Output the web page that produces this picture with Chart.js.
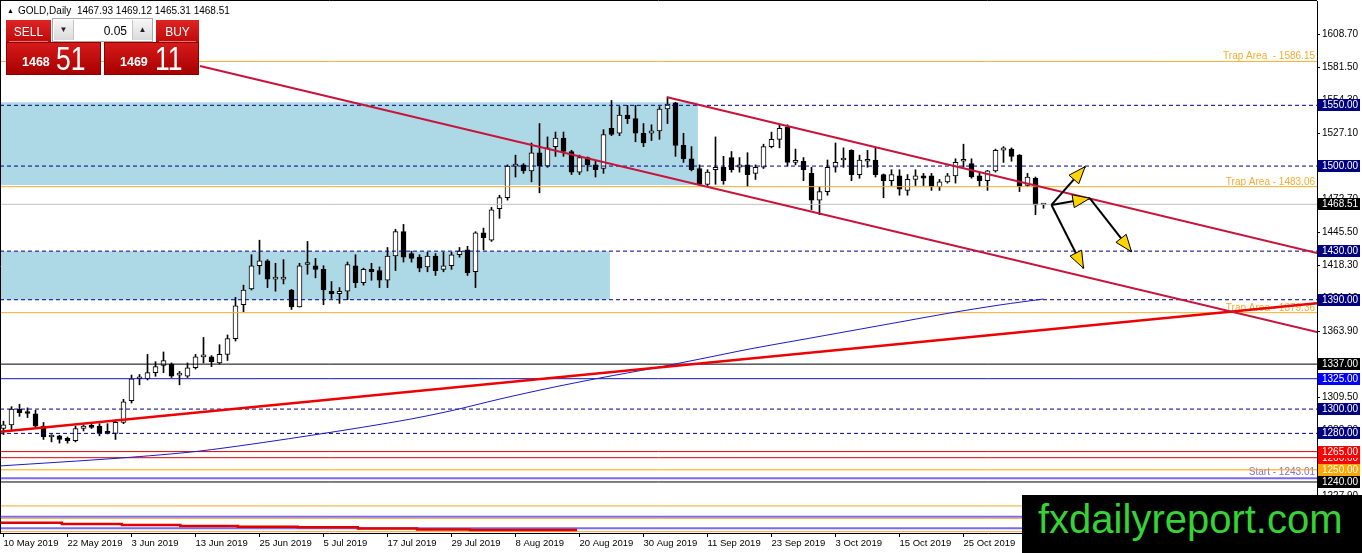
<!DOCTYPE html>
<html>
<head>
<meta charset="utf-8">
<title>GOLD Daily</title>
<script src="https://cdn.jsdelivr.net/npm/chart.js@4.4.1/dist/chart.umd.min.js"></script>
<style>
  html, body { margin: 0; padding: 0; background: #fff; }
  #wrap { position: relative; width: 1362px; height: 553px; overflow: hidden; font-family: "Liberation Sans", Arial, sans-serif; }
  #chart { position: absolute; left: 0; top: 0; }
  .abs { position: absolute; white-space: pre; }
  .red { background: linear-gradient(#de2424, #bf0a0a); }
  .redBig { background: linear-gradient(#d61a1a, #a80000); border: 1px solid #8c0000; box-sizing: border-box; }
  .wt { color: #fff; }
  .btn { position: absolute; top: 1px; width: 19px; height: 20px; background: linear-gradient(#f6f6f6, #dadada); font-size: 8px; line-height: 20px; text-align: center; color: #222; }
</style>
</head>
<body>
<div id="wrap">
  <canvas id="chart" width="1362" height="553"></canvas>

  <!-- header -->
  <div class="abs" style="left:7px;top:7px;font-size:7px;line-height:7px;">▲</div>
  <div class="abs" style="left:18px;top:6px;font-size:10px;line-height:10px;">GOLD,Daily  1467.93 1469.12 1465.31 1468.51</div>

  <!-- one click trading panel -->
  <div class="abs red" style="left:6px;top:20px;width:45px;height:22px;"></div>
  <div class="abs red" style="left:156px;top:20px;width:43px;height:22px;"></div>
  <div class="abs" style="left:9px;top:41px;width:39px;height:1px;background:rgba(255,255,255,0.45);"></div>
  <div class="abs" style="left:159px;top:41px;width:37px;height:1px;background:rgba(255,255,255,0.45);"></div>
  <div class="abs wt" style="left:6px;top:26px;width:45px;text-align:center;font-size:12px;line-height:12px;">SELL</div>
  <div class="abs wt" style="left:156px;top:26px;width:43px;text-align:center;font-size:12px;line-height:12px;">BUY</div>
  <div class="abs" style="left:52px;top:18px;width:101px;height:24px;background:#fff;border:1px solid #a8a8a8;box-sizing:border-box;">
    <div class="btn" style="left:1px;border-right:1px solid #c4c4c4;">▼</div>
    <div class="btn" style="left:79px;border-left:1px solid #c4c4c4;">▲</div>
  </div>
  <div class="abs" style="left:73px;top:25px;width:54px;text-align:right;font-size:12px;line-height:12px;">0.05</div>
  <div class="abs redBig" style="left:6px;top:42px;width:95px;height:33px;"></div>
  <div class="abs redBig" style="left:104px;top:42px;width:95px;height:33px;"></div>
  <div class="abs wt" style="left:22px;top:56px;font-size:12.5px;line-height:12.5px;font-weight:bold;">1468</div>
  <div class="abs wt" style="left:56px;top:41px;font-size:34px;line-height:34px;transform:scaleX(0.78);transform-origin:left top;">51</div>
  <div class="abs wt" style="left:120px;top:56px;font-size:12.5px;line-height:12.5px;font-weight:bold;">1469</div>
  <div class="abs wt" style="left:155px;top:41px;font-size:34px;line-height:34px;transform:scaleX(0.78);transform-origin:left top;">11</div>

  <!-- watermark -->
  <div class="abs" style="left:1022px;top:495px;width:340px;height:58px;background:#000;"></div>
  <div class="abs" style="left:1038px;top:499px;font-size:40px;line-height:40px;color:#35d335;">fxdailyreport.com</div>
</div>

<script>
// --- data ------------------------------------------------------------------

// date labels on the bottom axis, one every 8 bars
const tickDates = ['10 May 2019', '22 May 2019', '3 Jun 2019', '13 Jun 2019', '25 Jun 2019', '5 Jul 2019',
  '17 Jul 2019', '29 Jul 2019', '8 Aug 2019', '20 Aug 2019', '30 Aug 2019', '11 Sep 2019',
  '23 Sep 2019', '3 Oct 2019', '15 Oct 2019', '25 Oct 2019'];
const dateTickIndex = [0, 8, 16, 24, 32, 40, 48, 56, 64, 72, 80, 88, 96, 104, 112, 120];

// price labels on the right axis
const priceTicks = [1608.70, 1581.50, 1554.30, 1527.10, 1499.90, 1472.70, 1445.50, 1418.30, 1391.10,
  1363.90, 1336.70, 1309.50, 1282.30, 1255.10, 1227.90];

// daily candles, 10 May 2019 .. 8 Nov 2019
const opens = [1284,1287,1300,1297,1296,1286,1277,1278,1276,1274, 1284,1285.6,1286,1281,1280,1289,1307,1325,1325,1330,
  1336,1337,1328,1327,1334,1343,1343,1338,1345,1358, 1386,1399,1418,1422,1407,1407,1398,1384,1419,1418,
  1415,1397,1395,1397,1418,1404,1415,1414,1406,1426, 1446,1428,1425,1417,1426,1415,1418,1427,1431,1413,
  1445,1439,1465,1474,1500,1501,1496,1511,1500,1516, 1523,1512,1495,1507,1501,1498,1531,1527,1542,1539,
  1527,1527,1529,1547,1552,1517,1506,1498,1485,1497, 1499,1507,1499,1501,1494,1499,1516,1522,1532,1503,
  1504,1494,1472,1479,1499,1505,1513,1493,1504,1505, 1493,1488,1492,1480,1489,1492,1492,1483,1487,1492,
  1504,1502,1492,1488,1496,1513,1514,1509,1484,1490, 1467.93];
const highs = [1290,1302,1304,1301,1299,1289,1279,1278.5,1277,1286, 1287,1288,1288,1288,1291,1308,1328,1328.5,1345,1339,
  1347,1338,1331,1338,1345,1359,1344,1353,1361,1392, 1402,1427,1439,1423,1420,1423,1398.5,1420,1438,1424,
  1418,1405,1400,1421,1427,1416,1420,1417,1433,1448, 1452,1430,1427,1429,1428,1429,1429,1433,1434,1446,
  1449,1466,1476,1501,1509,1502,1519,1535,1524,1528, 1528,1513,1509,1507.5,1504,1530,1554,1549,1550,1550,
  1535,1534,1549,1557,1552.5,1527,1516,1501,1497,1524, 1508,1512,1507,1511,1501,1518,1528,1534,1534,1514,
  1507,1499,1483,1505,1519,1515,1513.5,1509,1513,1515, 1493.5,1497,1497,1493,1497,1494,1494,1489,1494,1506,
  1518,1506,1495,1496.5,1514,1516,1515,1509.5,1494,1491, 1469.12];
const lows = [1279,1282,1294,1293,1285,1275,1273,1272,1272,1273, 1282,1284,1278,1279.5,1275,1288,1305,1320,1324,1327,
  1330,1326,1320,1326,1333,1338,1335,1337,1340,1356, 1380,1398,1411,1400,1397,1403,1382,1384,1411,1408,
  1386,1391,1387,1390,1400,1402,1406,1400,1400,1414, 1421,1421,1413,1413,1410,1413,1415,1425,1410,1400,
  1431,1438,1457,1472,1491,1494,1487,1478,1499,1508, 1508,1493,1493,1496,1491,1494,1525,1525,1535,1520,
  1516,1521,1522,1535,1508,1503,1496,1484,1484,1485, 1485,1495,1495,1483,1489,1498,1515,1515,1500,1501,
  1488,1464,1460,1476,1495,1499,1488,1490,1499,1491, 1474,1484,1476,1476,1484,1484,1480,1480,1486,1486,
  1499,1490,1483,1480,1495,1503,1504,1479,1483,1460, 1465.31];
const closes = [1287,1300,1297,1296.4,1286,1277,1277.6,1275,1274,1284, 1286,1285,1280,1280,1289,1306,1325,1325.6,1330,1335,
  1340,1327,1328.6,1334,1343,1343.6,1339,1345,1358,1385, 1398,1418,1422,1407,1407.6,1407.6,1384,1418,1419.6,1415,
  1398,1395,1397,1419,1404,1415,1413,1406,1426,1446, 1425,1424,1416,1426,1414,1418,1427,1430,1412,1445,
  1441,1464,1474,1500,1500.6,1496,1511,1500,1515,1523, 1512,1495,1507,1501,1497,1526,1526,1542,1539,1527,
  1519,1529,1547,1551,1517,1506,1497,1485,1495,1499, 1488,1497,1501,1493,1499,1516,1522,1531,1503,1503.6,
  1497,1472,1479,1499,1503,1505.6,1493,1505,1504.6,1493, 1488,1493,1481,1489,1492,1490,1483,1487,1492,1503,
  1504.6,1491,1488,1496,1513,1515,1508,1483,1491,1468, 1468.51];

// moving average (blue), sampled along the curve: bar index / price
const maIndex = [-0.44, 14.56, 24.56, 37.06, 49.56, 55.81, 62.06, 68.31, 74.56, 81.44, 87.06, 93.31,
  99.56, 105.81, 112.06, 118.31, 124.56, 130];
const maValue = [1253.2, 1259.7, 1265.5, 1277.0, 1290.2, 1298.4, 1308.3, 1317.4, 1325.6, 1333.9, 1341.2, 1349.5,
  1356.9, 1364.3, 1371.7, 1379.1, 1385.7, 1390.6];

// trend lines: [start index, end index] / [start price, end price]
const redTrendIndex = [-0.44, 164.19];
const redTrendValue = [1281.4, 1387.1];
const channelLowIndex = [24.56, 164.19];
const channelLowValue = [1582.4, 1363.4];
const channelHighIndex = [82.97, 164.19];
const channelHighValue = [1556.6, 1428.5];

// stepped red line along the bottom
const stepIndex = [-0.44, 7.3, 14.8, 22.1, 29.3, 36.8, 44.3, 51.7, 58.3, 71.7];
const stepValue = [1206.5, 1205.4, 1204.6, 1203.8, 1203.2, 1202.7, 1201.7, 1200.9, 1200.5, 1200.5];

// shaded zones
const zoneEndIndex = [86.8, 75.8];
const zoneTop = [1552.5, 1430];
const zoneBottom = [1484.5, 1390];

// arrows
const arrowStartIndex = [131.0, 131.0, 135.8, 131.0];
const arrowStartValue = [1468.0, 1468.0, 1473.5, 1468.0];
const arrowEndIndex = [135.2, 135.8, 141.0, 135.0];
const arrowEndValue = [1499.5, 1473.5, 1429.5, 1415.9];

// horizontal levels
const dashedLevels = [1550, 1500, 1430, 1390, 1300, 1280];
const trapLevels = [1586.15, 1483.06, 1379.36];
const trapTexts = ['Trap Area  - 1586.15', 'Trap Area - 1483.06', 'Trap Area - 1379.36'];
const bidLevel = [1468.51];
const blackLevels = [1337, 1240];
const blueLevels = [1325];
const redLevels = [1260, 1265];
const orangeLevels = [1250];
const startLevel = [1243.01];
const startTexts = ['Start - 1243.01'];
const lowOrangeLevels = [1220.3, 1210.1, 1199.1];
const lowPurpleLevels = [1211.4, 1201.9];

// --- scale geometry -----------------------------------------------------------
const PX_PER_BAR = 8;
const PLOT_W = 1317;
const xMin = -0.4375;
const xMax = xMin + PLOT_W / PX_PER_BAR;
const yMax = 1635.86;
const yMin = 1198.02;

const FONT = '"Liberation Sans", Arial, sans-serif';
const NAVY = '#000080';
const TRAP = '#f3ad30';
const PURPLE = '#7b68ee';

function pts(xs, ys) { return xs.map((x, k) => ({ x: x, y: ys[k] })); }

function hline(v, color, width, dash, order) {
  return {
    type: 'line', data: [{ x: xMin, y: v }, { x: xMax, y: v }],
    borderColor: color, borderWidth: width, borderDash: dash || [],
    pointRadius: 0, tension: 0, fill: false, order: order || 40
  };
}

const datasets = [];

// shaded zones (under everything)
zoneTop.forEach((t, k) => {
  datasets.push({
    type: 'line', data: [{ x: xMin, y: t }, { x: zoneEndIndex[k], y: t }],
    fill: { value: zoneBottom[k] }, backgroundColor: '#add8e6',
    borderColor: 'rgba(0,0,0,0)', borderWidth: 0, pointRadius: 0, order: 100
  });
});

// candles: wicks + bodies as floating bars
const idx = opens.map((o, i) => i);
datasets.push({
  type: 'bar', data: idx.map(i => ({ x: i, y: [lows[i], highs[i]] })),
  backgroundColor: '#000', borderWidth: 0, barThickness: 1, grouped: false, order: 60
});
datasets.push({
  type: 'bar',
  data: idx.map(i => ({ x: i, y: [Math.min(opens[i], closes[i]), Math.max(opens[i], closes[i])] })),
  backgroundColor: idx.map(i => closes[i] >= opens[i] ? '#fff' : '#000'),
  borderColor: '#000', borderWidth: 1, borderSkipped: false, minBarLength: 2,
  barThickness: 5, grouped: false, order: 55
});

// horizontal levels
dashedLevels.forEach(v => datasets.push(hline(v, NAVY, 1, [4, 3])));
trapLevels.forEach(v => datasets.push(hline(v, TRAP, 1)));
bidLevel.forEach(v => datasets.push(hline(v, '#c0c0c0', 1, null, 45)));
blackLevels.forEach(v => datasets.push(hline(v, '#000', 1)));
blueLevels.forEach(v => datasets.push(hline(v, '#1414b4', 1)));
redLevels.forEach(v => datasets.push(hline(v, '#dd0000', 1)));
orangeLevels.forEach(v => datasets.push(hline(v, '#ffa500', 1)));
startLevel.forEach(v => datasets.push(hline(v, PURPLE, 2)));
lowOrangeLevels.forEach(v => datasets.push(hline(v, '#f5a623', 1)));
lowPurpleLevels.forEach(v => datasets.push(hline(v, PURPLE, 2)));

// stepped red line at the bottom
datasets.push({
  type: 'line', data: pts(stepIndex, stepValue), stepped: true,
  borderColor: '#e00000', borderWidth: 2.5, pointRadius: 0, fill: false, order: 35
});

// moving average
datasets.push({
  type: 'line', data: pts(maIndex, maValue), borderColor: '#1a1ac8', borderWidth: 1,
  pointRadius: 0, tension: 0.3, fill: false, order: 30
});

// trend lines
datasets.push({
  type: 'line', data: pts(redTrendIndex, redTrendValue), borderColor: '#ee0000', borderWidth: 2.5,
  pointRadius: 0, fill: false, order: 25
});
datasets.push({
  type: 'line', data: pts(channelLowIndex, channelLowValue), borderColor: '#c8143c', borderWidth: 2,
  pointRadius: 0, fill: false, order: 20
});
datasets.push({
  type: 'line', data: pts(channelHighIndex, channelHighValue), borderColor: '#c8143c', borderWidth: 2,
  pointRadius: 0, fill: false, order: 20
});

// arrow shafts
arrowStartIndex.forEach((s, k) => {
  datasets.push({
    type: 'line', data: [{ x: s, y: arrowStartValue[k] }, { x: arrowEndIndex[k], y: arrowEndValue[k] }],
    borderColor: '#000', borderWidth: 2, pointRadius: 0, fill: false, order: 10
  });
});

// right axis boxes, drawn in this order
const boxLevels = [1550, 1500, 1468.51, 1430, 1390, 1337, 1325, 1300, 1280, 1260, 1265, 1250, 1240];
function boxColor(v) {
  if (dashedLevels.includes(v)) return NAVY;
  if (blueLevels.includes(v)) return '#0000ff';
  if (redLevels.includes(v)) return '#ff0000';
  if (orangeLevels.includes(v)) return '#ffa500';
  return '#000';
}

const overlay = {
  id: 'overlay',
  beforeDatasetsDraw(chart) {
    const { ctx, chartArea, scales: { y } } = chart;
    ctx.save();
    ctx.font = '10px ' + FONT;
    ctx.textAlign = 'right';
    ctx.textBaseline = 'alphabetic';
    ctx.fillStyle = TRAP;
    trapLevels.forEach((v, k) => ctx.fillText(trapTexts[k], chartArea.right - 2, y.getPixelForValue(v) - 2));
    ctx.fillStyle = '#8070d8';
    startLevel.forEach((v, k) => ctx.fillText(startTexts[k], chartArea.right - 2, y.getPixelForValue(v) - 3));
    ctx.restore();
  },
  afterDraw(chart) {
    const { ctx, chartArea, scales: { x, y } } = chart;
    ctx.save();

    // arrow heads
    arrowStartIndex.forEach((s, k) => {
      const x1 = x.getPixelForValue(s), y1 = y.getPixelForValue(arrowStartValue[k]);
      const x2 = x.getPixelForValue(arrowEndIndex[k]), y2 = y.getPixelForValue(arrowEndValue[k]);
      const a = Math.atan2(y2 - y1, x2 - x1);
      const L = 17, W = 6.5;
      const bx = x2 - L * Math.cos(a), by = y2 - L * Math.sin(a);
      ctx.beginPath();
      ctx.moveTo(x2, y2);
      ctx.lineTo(bx + W * Math.sin(a), by - W * Math.cos(a));
      ctx.lineTo(bx - W * Math.sin(a), by + W * Math.cos(a));
      ctx.closePath();
      ctx.fillStyle = '#ffd400';
      ctx.fill();
      ctx.strokeStyle = '#000';
      ctx.lineWidth = 1;
      ctx.stroke();
    });

    // price boxes on the right axis
    ctx.font = '10px ' + FONT;
    ctx.textAlign = 'left';
    ctx.textBaseline = 'middle';
    boxLevels.forEach(v => {
      const py = Math.round(y.getPixelForValue(v));
      ctx.fillStyle = boxColor(v);
      ctx.fillRect(chartArea.right + 1, py - 6, 42, 12);
      ctx.fillStyle = '#fff';
      ctx.fillText(v.toFixed(2), chartArea.right + 5, py + 0.5);
    });

    // window frame
    ctx.strokeStyle = '#000';
    ctx.lineWidth = 1;
    ctx.beginPath();
    ctx.moveTo(0, 0.5); ctx.lineTo(chartArea.right, 0.5);
    ctx.moveTo(0.5, 0); ctx.lineTo(0.5, chartArea.bottom);
    ctx.stroke();
    ctx.restore();
  }
};

Chart.defaults.font.family = FONT;

new Chart(document.getElementById('chart'), {
  type: 'bar',
  data: { datasets: datasets },
  options: {
    responsive: false,
    animation: false,
    devicePixelRatio: 1,
    layout: { padding: { top: 1, left: 0, right: 0, bottom: 0 } },
    plugins: { legend: { display: false }, tooltip: { enabled: false } },
    scales: {
      x: {
        type: 'linear', position: 'bottom', min: xMin, max: xMax, offset: false, bounds: 'data',
        grid: { display: true, drawOnChartArea: false, drawTicks: true, tickLength: 4, color: '#000', offset: false },
        border: { display: true, color: '#000', width: 1 },
        ticks: {
          autoSkip: false, maxRotation: 0, minRotation: 0, align: 'start', padding: 1,
          color: '#000', font: { size: 9.5 },
          callback: v => { const k = dateTickIndex.indexOf(v); return k >= 0 ? tickDates[k] : ''; }
        },
        afterBuildTicks: a => { a.ticks = dateTickIndex.map(v => ({ value: v })); },
        afterFit: a => { a.height = 20; a.paddingLeft = 0; a.paddingRight = 0; }
      },
      y: {
        type: 'linear', position: 'right', min: yMin, max: yMax, bounds: 'data',
        grid: { display: true, drawOnChartArea: false, drawTicks: true, tickLength: 3, color: '#000' },
        border: { display: true, color: '#000', width: 1 },
        ticks: { autoSkip: false, padding: 2, color: '#000', font: { size: 10 }, callback: v => v.toFixed(2) },
        afterBuildTicks: a => { a.ticks = priceTicks.map(v => ({ value: v })); },
        afterFit: a => { a.width = 45; a.paddingTop = 0; a.paddingBottom = 0; }
      }
    }
  },
  plugins: [overlay]
});
</script>
</body>
</html>
